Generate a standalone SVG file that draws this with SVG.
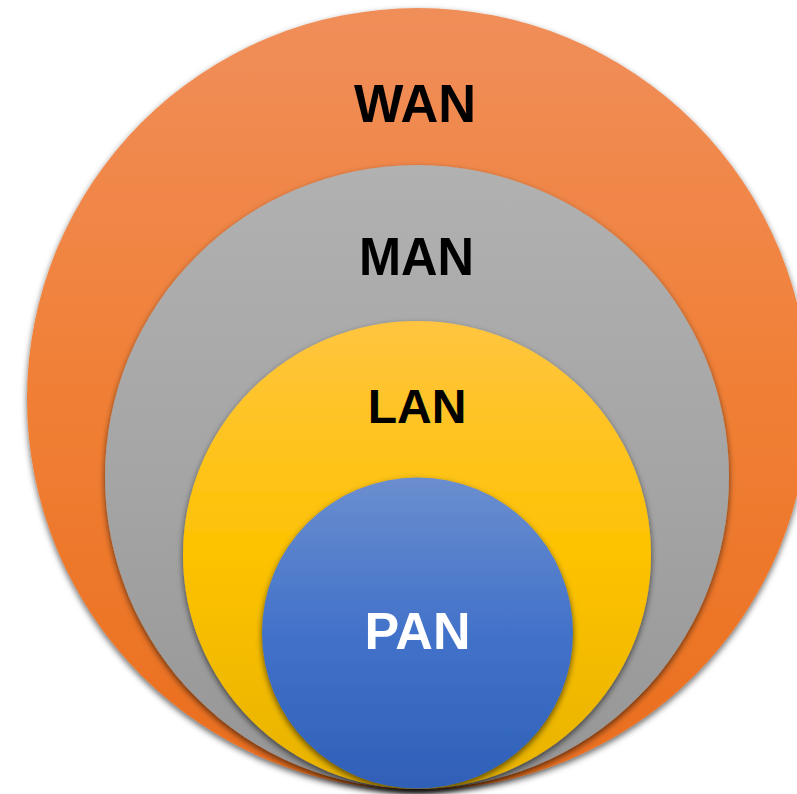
<svg xmlns="http://www.w3.org/2000/svg" width="797" height="794" viewBox="0 0 797 794">
<defs>
<linearGradient id="gWan" x1="0" y1="0" x2="0" y2="1"><stop offset="0" stop-color="#F08E5A"/><stop offset="0.5" stop-color="#F07F35"/><stop offset="1" stop-color="#EA6E1E"/></linearGradient>
<linearGradient id="gMan" x1="0" y1="0" x2="0" y2="1"><stop offset="0" stop-color="#B1B1B1"/><stop offset="0.5" stop-color="#A5A5A5"/><stop offset="1" stop-color="#969696"/></linearGradient>
<linearGradient id="gLan" x1="0" y1="0" x2="0" y2="1"><stop offset="0" stop-color="#FFC540"/><stop offset="0.5" stop-color="#FDC200"/><stop offset="1" stop-color="#E8B300"/></linearGradient>
<linearGradient id="gPan" x1="0" y1="0" x2="0" y2="1"><stop offset="0" stop-color="#6B8ECF"/><stop offset="0.5" stop-color="#4272C9"/><stop offset="1" stop-color="#2F60B8"/></linearGradient>
<filter id="sh" x="-10%" y="-10%" width="120%" height="125%"><feDropShadow dx="0" dy="3" stdDeviation="3" flood-color="#000" flood-opacity="0.6"/></filter>
</defs>
<style>
.lbl{font-family:"Liberation Sans",Arial,sans-serif;font-weight:bold;text-anchor:middle}
.dark{fill:#000}
.light{fill:#fff}
</style>
<rect width="797" height="794" fill="#fff"/>
<g id="wan"><circle cx="418" cy="399" r="391" fill="url(#gWan)" filter="url(#sh)"/><text class="lbl dark" x="415" y="122" font-size="54" textLength="122" lengthAdjust="spacingAndGlyphs">WAN</text></g>
<g id="man"><circle cx="417" cy="477" r="312" fill="url(#gMan)" filter="url(#sh)"/><text class="lbl dark" x="416.5" y="275" font-size="54" textLength="115" lengthAdjust="spacingAndGlyphs">MAN</text></g>
<g id="lan"><circle cx="417" cy="555" r="234" fill="url(#gLan)" filter="url(#sh)"/><text class="lbl dark" x="417" y="423" font-size="48">LAN</text></g>
<g id="pan"><circle cx="417.5" cy="633" r="155.5" fill="url(#gPan)" filter="url(#sh)"/><text class="lbl light" x="417.5" y="649" font-size="52">PAN</text></g>
<g id="connectors"/>
</svg>
